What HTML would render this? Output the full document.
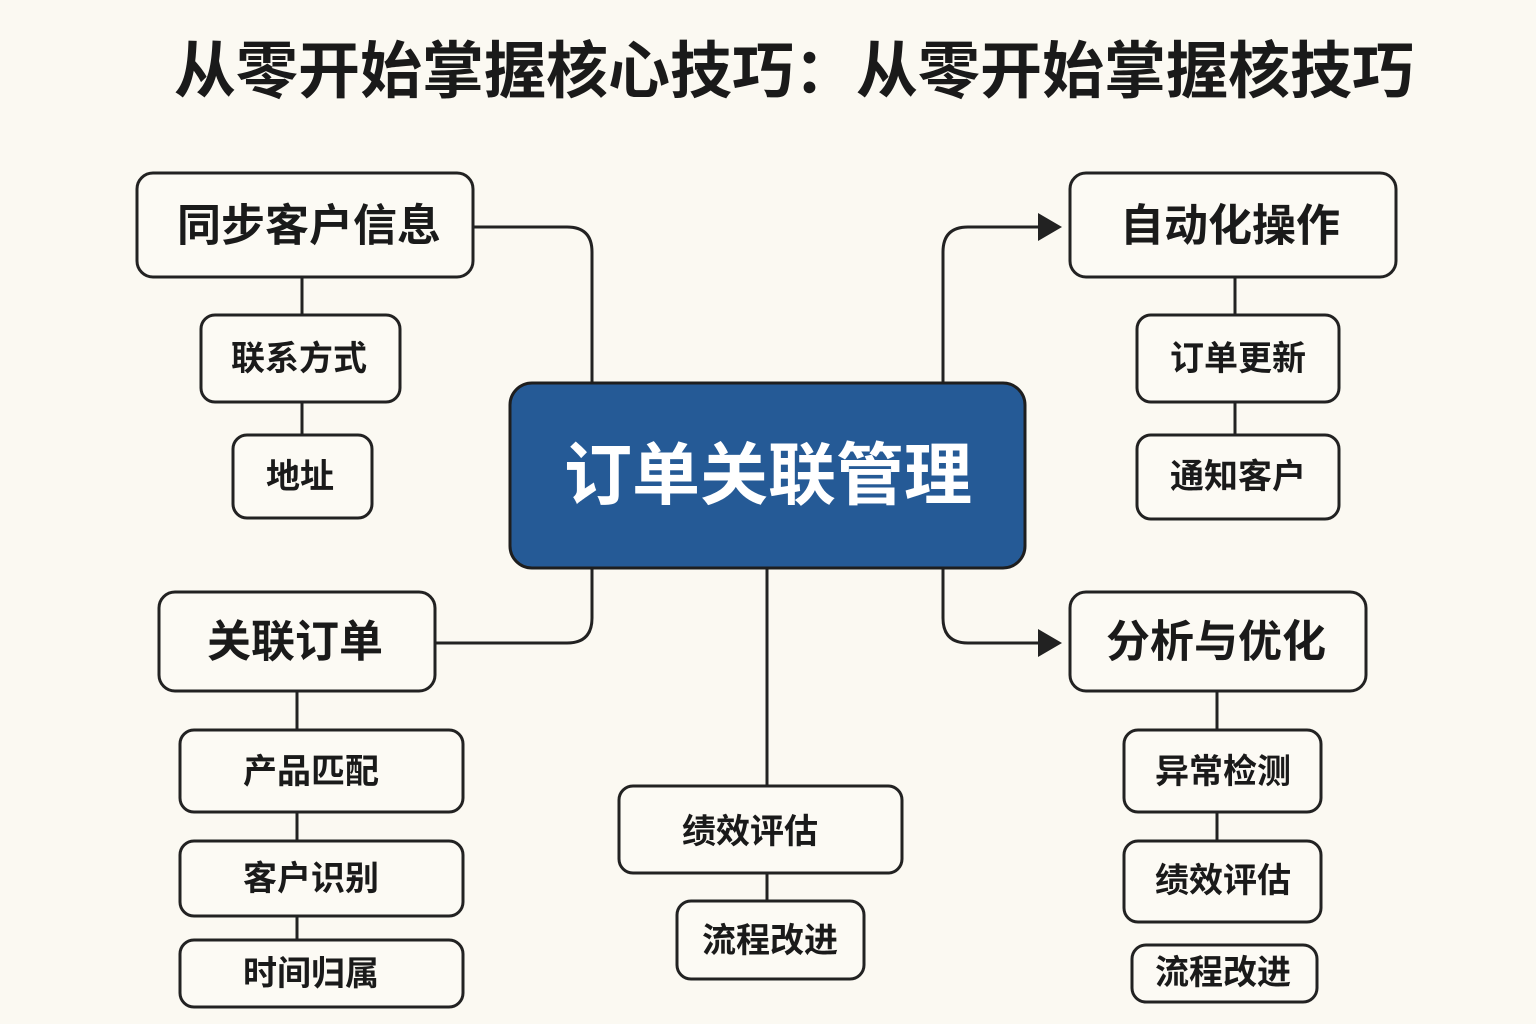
<!DOCTYPE html>
<html><head><meta charset="utf-8"><style>
html,body{margin:0;padding:0;background:#fbf9f2;}
svg{display:block}
text{font-family:"Liberation Sans","Noto Sans CJK SC",sans-serif;font-weight:bold;fill:#1a1a1a;text-anchor:middle;dominant-baseline:central}
</style></head><body>
<svg width="1536" height="1024" viewBox="0 0 1536 1024" xmlns="http://www.w3.org/2000/svg">
<rect width="1536" height="1024" fill="#fbf9f2"/>
<text x="794" y="72" font-size="62" style="letter-spacing:0px">从零开始掌握核心技巧：从零开始掌握核技巧</text>
<g fill="none" stroke="#222" stroke-width="3">
<path d="M473 227 H567 Q592 227 592 252 V383"/>
<path d="M592 568 V618 Q592 643 567 643 H435"/>
<path d="M943 383 V252 Q943 227 968 227 H1040"/>
<path d="M943 568 V618 Q943 643 968 643 H1040"/>
<path d="M767 568 V786"/>
<path d="M767 873 V901"/>
<path d="M302 277 V315 M302 402 V435"/>
<path d="M297 691 V730 M297 812 V841 M297 916 V940"/>
<path d="M1235 277 V315 M1235 402 V435"/>
<path d="M1217 691 V730 M1217 812 V841"/>
</g>
<polygon points="1038,213 1062,227 1038,241" fill="#222"/>
<polygon points="1038,629 1062,643 1038,657" fill="#222"/>
<g fill="#fcfaf4" stroke="#222" stroke-width="3">
<rect x="137" y="173" width="336" height="104" rx="16"/>
<rect x="201" y="315" width="199" height="87" rx="14"/>
<rect x="233" y="435" width="139" height="83" rx="14"/>
<rect x="159" y="592" width="276" height="99" rx="16"/>
<rect x="180" y="730" width="283" height="82" rx="14"/>
<rect x="180" y="841" width="283" height="75" rx="14"/>
<rect x="180" y="940" width="283" height="67" rx="14"/>
<rect x="619" y="786" width="283" height="87" rx="14"/>
<rect x="677" y="901" width="187" height="78" rx="14"/>
<rect x="1070" y="173" width="326" height="104" rx="16"/>
<rect x="1137" y="315" width="202" height="87" rx="14"/>
<rect x="1137" y="435" width="202" height="84" rx="14"/>
<rect x="1070" y="592" width="296" height="99" rx="16"/>
<rect x="1124" y="730" width="197" height="82" rx="14"/>
<rect x="1124" y="841" width="197" height="81" rx="14"/>
<rect x="1132" y="945" width="185" height="57" rx="14"/>
</g>
<rect x="510" y="383" width="515" height="185" rx="22" fill="#255a96" stroke="#1e1e1e" stroke-width="3"/>
<text x="768" y="476" font-size="68" style="fill:#fff">订单关联管理</text>
<text x="309" y="226" font-size="44">同步客户信息</text>
<text x="299" y="359" font-size="34">联系方式</text>
<text x="300" y="477" font-size="34">地址</text>
<text x="295" y="642" font-size="44">关联订单</text>
<text x="311" y="772" font-size="34">产品匹配</text>
<text x="311" y="879" font-size="34">客户识别</text>
<text x="311" y="974" font-size="34">时间归属</text>
<text x="750" y="832" font-size="34">绩效评估</text>
<text x="770" y="941" font-size="34">流程改进</text>
<text x="1230" y="226" font-size="44">自动化操作</text>
<text x="1238" y="359" font-size="34">订单更新</text>
<text x="1238" y="477" font-size="34">通知客户</text>
<text x="1216" y="642" font-size="44">分析与优化</text>
<text x="1223" y="772" font-size="34">异常检测</text>
<text x="1223" y="881" font-size="34">绩效评估</text>
<text x="1223" y="973" font-size="34">流程改进</text>
</svg>
</body></html>
